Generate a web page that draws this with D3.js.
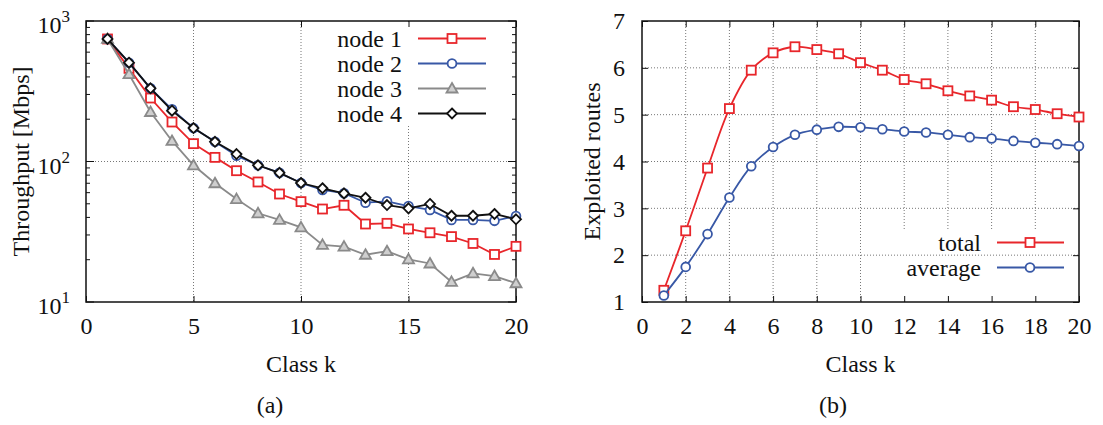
<!DOCTYPE html>
<html>
<head>
<meta charset="utf-8">
<script src="https://cdn.jsdelivr.net/npm/d3@7/dist/d3.min.js"></script>
<style>
  html, body { margin: 0; padding: 0; background: #fff; }
  svg text { font-family: "Liberation Serif", "DejaVu Serif", serif; fill: #111; }
</style>
</head>
<body>
<svg id="fig" width="1103" height="425"></svg>
<script>
// ---- data ----
const classes = [1, 2, 3, 4, 5, 6, 7, 8, 9, 10, 11, 12, 13, 14, 15, 16, 17, 18, 19, 20];

// (a) throughput per node [Mbps]
const node1 = [745, 460, 283, 191, 134, 107, 86, 71.5, 58.7, 51.8, 45.9, 48.8, 35.9, 36.3, 33.1, 31.1, 29.2, 26.1, 21.8, 24.9];
const node2 = [745, 505, 332, 235, 173, 138, 110, 94, 83, 70.3, 62.7, 59.5, 50.9, 52.1, 48.2, 45.2, 38.4, 38.4, 37.8, 40.9];
const node3 = [745, 418, 225, 140, 94, 70, 54, 42.8, 38.4, 34, 25.5, 24.8, 21.7, 23, 20.1, 18.8, 13.9, 16, 15.3, 13.6];
const node4 = [745, 505, 332, 230, 173, 138, 113, 94, 83, 70.3, 64.5, 59.3, 55.2, 49, 46.4, 49.9, 41.1, 41.1, 42.3, 38.8];

// (b) exploited routes
const total   = [1.25, 2.52, 3.86, 5.13, 5.95, 6.32, 6.45, 6.39, 6.30, 6.11, 5.95, 5.75, 5.66, 5.51, 5.40, 5.31, 5.17, 5.11, 5.02, 4.95];
const average = [1.14, 1.75, 2.45, 3.23, 3.90, 4.31, 4.57, 4.68, 4.74, 4.73, 4.69, 4.64, 4.62, 4.57, 4.52, 4.49, 4.44, 4.40, 4.37, 4.33];

// tick labels
const xTicksA = [0, 5, 10, 15, 20];
const yExpA = [1, 2, 3];
const yMinorA = [20, 30, 40, 50, 60, 70, 80, 90, 200, 300, 400, 500, 600, 700, 800, 900];
const xTicksB = [0, 2, 4, 6, 8, 10, 12, 14, 16, 18, 20];
const yTicksB = [1, 2, 3, 4, 5, 6, 7];

const seriesA = [
  { name: "node 1", values: node1, color: "#e8262b", marker: "square" },
  { name: "node 2", values: node2, color: "#3858a6", marker: "circle" },
  { name: "node 3", values: node3, color: "#8a8a8a", marker: "triangle" },
  { name: "node 4", values: node4, color: "#111111", marker: "diamond" }
];
const seriesB = [
  { name: "total", values: total, color: "#e8262b", marker: "square" },
  { name: "average", values: average, color: "#3858a6", marker: "circle" }
];

const svg = d3.select("#fig");
const FS = 24;

function marker(g, type, x, y, color) {
  if (type === "square") {
    g.append("rect").attr("x", x - 4.5).attr("y", y - 4.5).attr("width", 9).attr("height", 9)
      .attr("fill", "#fff").attr("stroke", color).attr("stroke-width", 1.8);
  } else if (type === "circle") {
    g.append("circle").attr("cx", x).attr("cy", y).attr("r", 4.4)
      .attr("fill", "#fff").attr("stroke", color).attr("stroke-width", 1.8);
  } else if (type === "triangle") {
    g.append("path").attr("d", `M${x},${y - 5.5}L${x + 5.5},${y + 4}L${x - 5.5},${y + 4}Z`)
      .attr("fill", "#cfcfcf").attr("stroke", color).attr("stroke-width", 1.8);
  } else if (type === "diamond") {
    g.append("path").attr("d", `M${x},${y - 5}L${x + 5},${y}L${x},${y + 5}L${x - 5},${y}Z`)
      .attr("fill", "#fff").attr("stroke", color).attr("stroke-width", 1.8);
  }
}

function gridStyle(sel) {
  sel.attr("stroke", "#777").attr("stroke-width", 1).attr("stroke-dasharray", "1,2");
}

// ================= (a) =================
{
  const L = 86, R = 516, T = 21, B = 302;
  const x = d3.scaleLinear().domain([0, 20]).range([L, R]);
  const y = d3.scaleLog().domain([10, 1000]).range([B, T]);
  const g = svg.append("g");

  // vertical grid
  xTicksA.filter(d => d > 0 && d < 20).forEach(d => {
    g.append("line").attr("x1", x(d)).attr("x2", x(d)).attr("y1", T).attr("y2", B).call(gridStyle);
  });
  // legend backdrop
  g.append("rect").attr("x", 330).attr("y", T + 1).attr("width", R - 331).attr("height", 104).attr("fill", "#fff");
  // horizontal grid
  g.append("line").attr("x1", L).attr("x2", R).attr("y1", y(100)).attr("y2", y(100)).call(gridStyle);

  // x ticks (bottom + mirrored top)
  g.append("g").attr("transform", `translate(0,${B})`)
    .call(d3.axisBottom(x).tickValues(xTicksA).tickSizeInner(-6).tickSizeOuter(0).tickPadding(15).tickFormat(d3.format("d")));
  g.append("g").attr("transform", `translate(0,${T})`)
    .call(d3.axisTop(x).tickValues(xTicksA).tickSizeInner(-6).tickSizeOuter(0).tickFormat(""));
  // y ticks (major + minor, both sides)
  const majors = yExpA.map(e => Math.pow(10, e));
  [[L, 1], [R, -1]].forEach(([ax, dir]) => {
    majors.forEach(v => g.append("line").attr("x1", ax).attr("x2", ax + dir * 8).attr("y1", y(v)).attr("y2", y(v)).attr("stroke", "#111"));
    yMinorA.forEach(v => g.append("line").attr("x1", ax).attr("x2", ax + dir * 4).attr("y1", y(v)).attr("y2", y(v)).attr("stroke", "#111"));
  });
  g.selectAll(".domain").remove();
  g.selectAll(".tick line").attr("stroke", "#111");
  g.selectAll(".tick text").attr("font-size", FS).attr("font-family", "Liberation Serif").attr("fill", "#111");

  // y tick labels with exponents
  yExpA.forEach(e => {
    const t = g.append("text").attr("x", 70).attr("y", y(Math.pow(10, e)) + 12)
      .attr("text-anchor", "end").attr("font-size", FS);
    t.append("tspan").text("10");
    t.append("tspan").attr("font-size", 17).attr("dy", -11).text(String(e));
  });

  // frame
  g.append("rect").attr("x", L).attr("y", T).attr("width", R - L).attr("height", B - T)
    .attr("fill", "none").attr("stroke", "#111").attr("stroke-width", 1.5);

  // series
  const line = d3.line().x((d, i) => x(classes[i])).y(d => y(d));
  seriesA.forEach(s => {
    g.append("path").attr("d", line(s.values)).attr("fill", "none")
      .attr("stroke", s.color).attr("stroke-width", 1.8);
    const mg = g.append("g");
    s.values.forEach((v, i) => marker(mg, s.marker, x(classes[i]), y(v), s.color));
  });

  // legend
  seriesA.forEach((s, i) => {
    const cy = 38.5 + i * 25;
    g.append("text").attr("x", 402).attr("y", cy + 8).attr("text-anchor", "end").attr("font-size", FS).text(s.name);
    g.append("line").attr("x1", 418).attr("x2", 486).attr("y1", cy).attr("y2", cy).attr("stroke", s.color).attr("stroke-width", 1.8);
    marker(g, s.marker, 452, cy, s.color);
  });

  // titles
  g.append("text").attr("x", (L + R) / 2).attr("y", 372).attr("text-anchor", "middle").attr("font-size", FS).text("Class k");
  g.append("text").attr("transform", `translate(29,${(T + B) / 2}) rotate(-90)`).attr("text-anchor", "middle").attr("font-size", FS).text("Throughput [Mbps]");
  g.append("text").attr("x", 270).attr("y", 413).attr("text-anchor", "middle").attr("font-size", FS).text("(a)");
}

// ================= (b) =================
{
  const L = 642, R = 1079, T = 21, B = 302;
  const x = d3.scaleLinear().domain([0, 20]).range([L, R]);
  const y = d3.scaleLinear().domain([1, 7]).range([B, T]);
  const g = svg.append("g");

  xTicksB.filter(d => d > 0 && d < 20).forEach(d => {
    g.append("line").attr("x1", x(d)).attr("x2", x(d)).attr("y1", T).attr("y2", B).call(gridStyle);
  });
  g.append("rect").attr("x", 897).attr("y", 231).attr("width", R - 898).attr("height", B - 232).attr("fill", "#fff");
  yTicksB.filter(d => d > 1 && d < 7).forEach(d => {
    g.append("line").attr("x1", L).attr("x2", R).attr("y1", y(d)).attr("y2", y(d)).call(gridStyle);
  });

  g.append("g").attr("transform", `translate(0,${B})`)
    .call(d3.axisBottom(x).tickValues(xTicksB).tickSizeInner(-6).tickSizeOuter(0).tickPadding(15).tickFormat(d3.format("d")));
  g.append("g").attr("transform", `translate(0,${T})`)
    .call(d3.axisTop(x).tickValues(xTicksB).tickSizeInner(-6).tickSizeOuter(0).tickFormat(""));
  g.append("g").attr("transform", `translate(${L},0)`)
    .call(d3.axisLeft(y).tickValues(yTicksB).tickSizeInner(-6).tickSizeOuter(0).tickPadding(17).tickFormat(d3.format("d")));
  g.append("g").attr("transform", `translate(${R},0)`)
    .call(d3.axisRight(y).tickValues(yTicksB).tickSizeInner(-6).tickSizeOuter(0).tickFormat(""));
  g.selectAll(".domain").remove();
  g.selectAll(".tick line").attr("stroke", "#111");
  g.selectAll(".tick text").attr("font-size", FS).attr("font-family", "Liberation Serif").attr("fill", "#111");

  g.append("rect").attr("x", L).attr("y", T).attr("width", R - L).attr("height", B - T)
    .attr("fill", "none").attr("stroke", "#111").attr("stroke-width", 1.5);

  const line = d3.line().x((d, i) => x(classes[i])).y(d => y(d)).curve(d3.curveCatmullRom.alpha(0.5));
  seriesB.forEach(s => {
    g.append("path").attr("d", line(s.values)).attr("fill", "none")
      .attr("stroke", s.color).attr("stroke-width", 1.8);
    const mg = g.append("g");
    s.values.forEach((v, i) => marker(mg, s.marker, x(classes[i]), y(v), s.color));
  });

  seriesB.forEach((s, i) => {
    const cy = 242.5 + i * 25;
    g.append("text").attr("x", 981).attr("y", cy + 8).attr("text-anchor", "end").attr("font-size", FS).text(s.name);
    g.append("line").attr("x1", 997).attr("x2", 1064).attr("y1", cy).attr("y2", cy).attr("stroke", s.color).attr("stroke-width", 1.8);
    marker(g, s.marker, 1030, cy, s.color);
  });

  g.append("text").attr("x", (L + R) / 2).attr("y", 372).attr("text-anchor", "middle").attr("font-size", FS).text("Class k");
  g.append("text").attr("transform", `translate(600,${(T + B) / 2}) rotate(-90)`).attr("text-anchor", "middle").attr("font-size", FS).text("Exploited routes");
  g.append("text").attr("x", 833).attr("y", 413).attr("text-anchor", "middle").attr("font-size", FS).text("(b)");
}
</script>
</body>
</html>
